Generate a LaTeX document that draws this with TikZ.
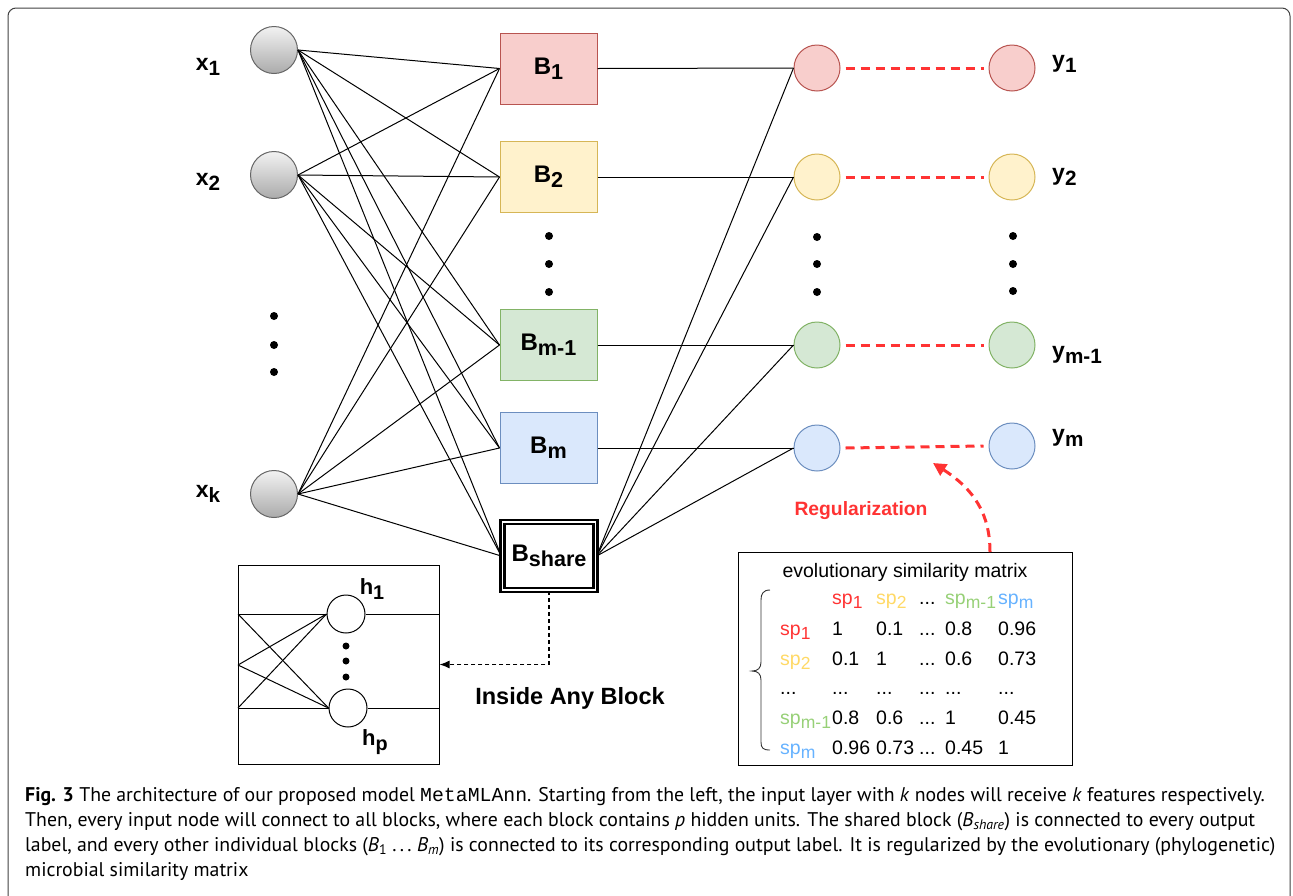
\documentclass[tikz,border=0pt]{standalone}
\usepackage{fontspec}
\setmainfont{Liberation Sans}
\newfontfamily\capfont{PT Sans}
\newfontfamily\capmono{Liberation Mono}
\usetikzlibrary{arrows.meta}
\definecolor{redF}{HTML}{F8CECC}\definecolor{redS}{HTML}{B85450}
\definecolor{yelF}{HTML}{FFF2CC}\definecolor{yelS}{HTML}{D6B656}
\definecolor{grnF}{HTML}{D5E8D4}\definecolor{grnS}{HTML}{82B366}
\definecolor{bluF}{HTML}{DAE8FC}\definecolor{bluS}{HTML}{6C8EBF}
\definecolor{regred}{HTML}{FF3333}
\definecolor{spred}{HTML}{FF3333}\definecolor{spyel}{HTML}{FFD966}
\definecolor{spgrn}{HTML}{97D077}\definecolor{spblu}{HTML}{66B2FF}
\definecolor{inpS}{HTML}{666666}\definecolor{inpT}{HTML}{F2F2F2}\definecolor{inpB}{HTML}{ABABAB}
\newcommand{\lsub}[1]{\raisebox{-0.4ex}{\scalebox{0.9}{#1}}}
\begin{document}
\begin{tikzpicture}[x=1pt,y=-1pt,
  inp/.style={circle,minimum size=47pt,inner sep=0pt,draw=inpS,line width=1pt,top color=inpT,bottom color=inpB},
  blk/.style={rectangle,minimum width=97pt,minimum height=71pt,line width=1pt,font=\bfseries\fontsize{24}{26}\selectfont},
  outc/.style={circle,minimum size=46pt,inner sep=0pt,line width=1pt},
  hid/.style={circle,minimum size=38pt,inner sep=0pt,draw,line width=1pt},
  conn/.style={line width=1pt},
  regline/.style={regred,line width=3pt,dash pattern=on 9pt off 6pt},
  lbl/.style={font=\bfseries\fontsize{23}{25}\selectfont,inner sep=0pt},
  dotn/.style={circle,fill=black,inner sep=0pt,minimum size=8pt},
  mtx/.style={anchor=base west,inner sep=0pt,font=\fontsize{19.5}{22}\selectfont},
  capline/.style={anchor=base west,inner sep=0pt,font=\capfont\fontsize{19.8}{22}\selectfont}
]
\useasboundingbox (0,0) rectangle (1293,895);
% outer frame
\draw[black!75,line width=1pt,rounded corners=8pt] (8,8) rectangle (1290,910);

% input nodes
\node[inp] (x1) at (274,50) {};
\node[inp] (x2) at (274,175) {};
\node[inp] (xk) at (274,494) {};
\node[lbl] (lx1) at (208,67) {x\lsub{1}};
\node[lbl] (lx2) at (208,182) {x\lsub{2}};
\node[lbl] (lxk) at (208,494) {x\lsub{k}};
\node[dotn] (ld1) at (274,316) {};
\node[dotn] (ld2) at (274,345) {};
\node[dotn] (ld3) at (274,372) {};

% blocks
\node[blk,fill=redF,draw=redS] (b1) at (548.5,68.5) {B\lsub{1}};
\node[blk,fill=yelF,draw=yelS] (b2) at (548.5,177) {B\lsub{2}};
\node[blk,fill=grnF,draw=grnS] (bm1) at (548.5,345) {B\lsub{m-1}};
\node[blk,fill=bluF,draw=bluS] (bm) at (548.5,448) {B\lsub{m}};
\node[rectangle,draw=black,line width=2.4pt,double=white,double distance=1.4pt,fill=white,
      minimum width=93pt,minimum height=68pt,inner sep=0pt,font=\bfseries\fontsize{24}{26}\selectfont] (bs) at (549,556) {B\lsub{share}};
\node[dotn] (md1) at (549,236) {};
\node[dotn] (md2) at (549,264) {};
\node[dotn] (md3) at (549,292) {};

% outputs
\node[outc,fill=redF,draw=redS] (o1) at (817,68) {};
\node[outc,fill=yelF,draw=yelS] (o2) at (817,177) {};
\node[outc,fill=grnF,draw=grnS] (om1) at (817,345) {};
\node[outc,fill=bluF,draw=bluS] (om) at (817,448) {};
\node[outc,fill=redF,draw=redS] (y1) at (1012,68) {};
\node[outc,fill=yelF,draw=yelS] (y2) at (1012,177) {};
\node[outc,fill=grnF,draw=grnS] (ym1) at (1012,345) {};
\node[outc,fill=bluF,draw=bluS] (ym) at (1012,446) {};
\node[dotn] (od1) at (817,237) {};
\node[dotn] (od2) at (817,264) {};
\node[dotn] (od3) at (817,292) {};
\node[dotn] (rd1) at (1013,236) {};
\node[dotn] (rd2) at (1013,264) {};
\node[dotn] (rd3) at (1013,291) {};
\node[lbl,anchor=west] (ly1) at (1052,64) {y\lsub{1}};
\node[lbl,anchor=west] (ly2) at (1052,177) {y\lsub{2}};
\node[lbl,anchor=west] (lym1) at (1052,355) {y\lsub{m-1}};
\node[lbl,anchor=west] (lym) at (1052,438) {y\lsub{m}};

% connections input -> blocks
\foreach \i in {x1,x2,xk}{
  \foreach \b in {b1,b2,bm1,bm,bs}{
    \draw[conn] (\i.east) -- (\b.west);
  }
}
% blocks -> outputs
\draw[conn] (b1.east) -- (o1.west);
\draw[conn] (b2.east) -- (o2.west);
\draw[conn] (bm1.east) -- (om1.west);
\draw[conn] (bm.east) -- (om.west);
\foreach \o in {o1,o2,om1,om}{
  \draw[conn] (bs.east) -- (\o.west);
}
% regularization dashed lines
\draw[regline] ([xshift=5pt]o1.east) -- ([xshift=-5pt]y1.west);
\draw[regline] ([xshift=5pt]o2.east) -- ([xshift=-5pt]y2.west);
\draw[regline] ([xshift=5pt]om1.east) -- ([xshift=-5pt]ym1.west);
\draw[regline] ([xshift=5pt]om.east) -- ([xshift=-5pt]ym.west);

% inside block
\node[draw=black,line width=1pt,minimum width=201pt,minimum height=199pt,inner sep=0pt] (ib) at (338.5,664.5) {};
\node[hid] (h1) at (346,614) {};
\node[hid] (hp) at (348,708) {};
\coordinate (il1) at (238,614);
\coordinate (il2) at (238,665);
\coordinate (il3) at (238,708);
\coordinate (ir1) at (439,614);
\coordinate (ir2) at (439,708);
\foreach \l in {il1,il2,il3}{
  \draw[conn] (\l) -- (h1.west);
  \draw[conn] (\l) -- (hp.west);
}
\draw[conn] (h1.east) -- (ir1);
\draw[conn] (hp.east) -- (ir2);
\node[dotn,minimum size=7pt] (hd1) at (346,646) {};
\node[dotn,minimum size=7pt] (hd2) at (346,661) {};
\node[dotn,minimum size=7pt] (hd3) at (346,677) {};
\node[lbl,font=\bfseries\fontsize{22}{24}\selectfont] (lh1) at (372,589) {h\lsub{1}};
\node[lbl,font=\bfseries\fontsize{22}{24}\selectfont] (lhp) at (375,742) {h\lsub{p}};
\draw[line width=1.3pt,dash pattern=on 4pt off 3pt,-{Latex[length=10pt,width=8pt]}] (bs.south) |- (ib.east);
\node[font=\bfseries\fontsize{23.5}{26}\selectfont,inner sep=0pt] (iab) at (570,698) {Inside Any Block};

% regularization
\node[font=\bfseries\fontsize{19.3}{21}\selectfont,text=regred,inner sep=0pt] (regl) at (861,511) {Regularization};
\node[draw=black,line width=1pt,minimum width=334pt,minimum height=213pt,inner sep=0pt] (mat) at (905,658.5) {};
\coordinate (regs) at (990,552);
\coordinate (regt) at (933,463);
\draw[regline,-{Triangle[length=13pt,width=13pt]}] (regs) .. controls (990,515) and (975,490) .. (regt);

% matrix content
\node[mtx,anchor=base] (mtitle) at (905,577) {evolutionary similarity matrix};
\node[mtx,text=spred] (h-1) at (832,604) {sp\lsub{1}};
\node[mtx,text=spyel] (h-2) at (876,604) {sp\lsub{2}};
\node[mtx] (h-3) at (919,604) {...};
\node[mtx,text=spgrn] (h-4) at (945,604) {sp\lsub{m-1}};
\node[mtx,text=spblu] (h-5) at (998,604) {sp\lsub{m}};

\node[mtx,text=spred] (r1-0) at (780,635) {sp\lsub{1}};
\node[mtx] (r1-1) at (832,635) {1};
\node[mtx] (r1-2) at (876,635) {0.1};
\node[mtx] (r1-3) at (919,635) {...};
\node[mtx] (r1-4) at (945,635) {0.8};
\node[mtx] (r1-5) at (998,635) {0.96};

\node[mtx,text=spyel] (r2-0) at (780,665) {sp\lsub{2}};
\node[mtx] (r2-1) at (832,665) {0.1};
\node[mtx] (r2-2) at (876,665) {1};
\node[mtx] (r2-3) at (919,665) {...};
\node[mtx] (r2-4) at (945,665) {0.6};
\node[mtx] (r2-5) at (998,665) {0.73};

\node[mtx] (r3-0) at (780,694) {...};
\node[mtx] (r3-1) at (832,694) {...};
\node[mtx] (r3-2) at (876,694) {...};
\node[mtx] (r3-3) at (919,694) {...};
\node[mtx] (r3-4) at (945,694) {...};
\node[mtx] (r3-5) at (998,694) {...};

\node[mtx,text=spgrn] (r4-0) at (780,724) {sp\lsub{m-1}};
\node[mtx] (r4-1) at (832,724) {0.8};
\node[mtx] (r4-2) at (876,724) {0.6};
\node[mtx] (r4-3) at (919,724) {...};
\node[mtx] (r4-4) at (945,724) {1};
\node[mtx] (r4-5) at (998,724) {0.45};

\node[mtx,text=spblu] (r5-0) at (780,754) {sp\lsub{m}};
\node[mtx] (r5-1) at (832,754) {0.96};
\node[mtx] (r5-2) at (876,754) {0.73};
\node[mtx] (r5-3) at (919,754) {...};
\node[mtx] (r5-4) at (945,754) {0.45};
\node[mtx] (r5-5) at (998,754) {1};

% brace
\draw[black!80,line width=0.9pt] (770,590) .. controls (763,590) and (761,594) .. (761,600) -- (761,662)
  .. controls (761,668) and (758,671) .. (752,671)
  .. controls (758,671) and (761,674) .. (761,680) -- (761,742)
  .. controls (761,748) and (763,750) .. (770,750);

% caption
\node[capline] (c1) at (25,801) {\textbf{Fig. 3} The architecture of our proposed model {\capmono MetaMLAnn}. Starting from the left, the input layer with \textit{k} nodes will receive \textit{k} features respectively.};
\node[capline] (c2) at (25,826) {Then, every input node will connect to all blocks, where each block contains \textit{p} hidden units. The shared block (\textit{B}\textsubscript{\textit{share}}) is connected to every output};
\node[capline] (c3) at (25,851) {label, and every other individual blocks (\textit{B}\textsubscript{1}\ .\,.\,.\ \textit{B}\textsubscript{\textit{m}}) is connected to its corresponding output label. It is regularized by the evolutionary (phylogenetic)};
\node[capline] (c4) at (25,876) {microbial similarity matrix};
\end{tikzpicture}
\end{document}
